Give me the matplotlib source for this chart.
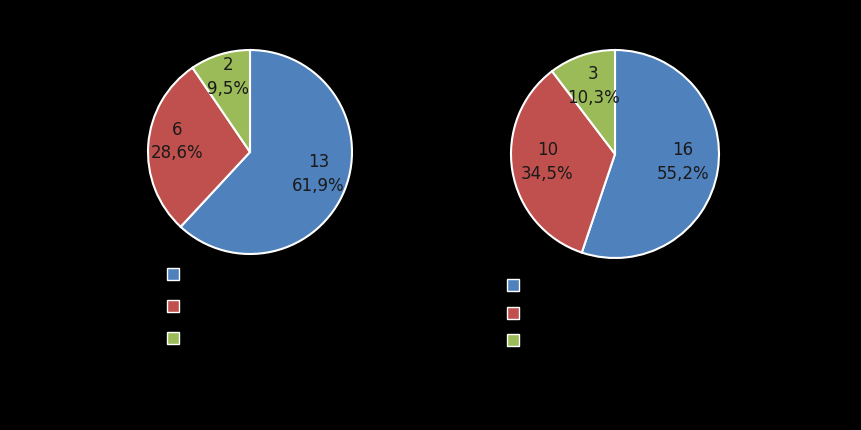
import matplotlib
matplotlib.use("Agg")
import matplotlib.pyplot as plt
import matplotlib.transforms as mtransforms
from matplotlib.lines import Line2D

colors = ["#4F81BD", "#C0504D", "#9BBB59"]

left_values = [13, 6, 2]
right_values = [16, 10, 3]

W, H = 861, 431


def fmt_label(values):
    total = sum(values)

    def f(pct):
        v = int(round(pct * total / 100.0))
        return "{}\n{}%".format(v, ("%.1f" % pct).replace(".", ","))
    return f


def draw_pie(values, cx, cy, r, pctdist, lift):
    ax = fig.add_axes([(cx - r) / W, (H - cy - r) / H, 2 * r / W, 2 * r / H])
    ax.set_facecolor("black")
    wedges, texts, autotexts = ax.pie(
        values, colors=colors, startangle=90, counterclock=False,
        autopct=fmt_label(values), pctdistance=pctdist, radius=1,
        wedgeprops=dict(edgecolor="white", linewidth=1.5, clip_on=False),
        textprops=dict(color="#1a1a1a", fontsize=12, linespacing=1.4),
    )
    # nudge labels up a little, like the original
    shift = mtransforms.ScaledTranslation(0, lift / 100.0, fig.dpi_scale_trans)
    for t in autotexts:
        t.set_transform(t.get_transform() + shift)
    ax.set_xlim(-1, 1)
    ax.set_ylim(-1, 1)
    ax.set_aspect("equal")
    ax.axis("off")
    return ax


def draw_legend(x, y, spacing):
    handles = [Line2D([], [], marker="s", linestyle="none", markersize=8.5,
                      markerfacecolor=c, markeredgecolor="white", markeredgewidth=1)
               for c in colors]
    leg = fig.legend(handles, [" ", " ", " "], loc="upper left",
                     bbox_to_anchor=(x / W, 1 - y / H), frameon=False,
                     fontsize=12, handlelength=1, borderpad=0, borderaxespad=0,
                     labelspacing=spacing, labelcolor="black")
    return leg


fig = plt.figure(figsize=(8.61, 4.31), dpi=100, facecolor="black")

draw_pie(left_values, 250, 153, 102, 0.72, 6)
draw_pie(right_values, 615, 155, 104, 0.66, 4)

draw_legend(165, 267, 0.84)
draw_legend(505, 278, 0.57)

fig.savefig("out.png", dpi=100, facecolor="black")
